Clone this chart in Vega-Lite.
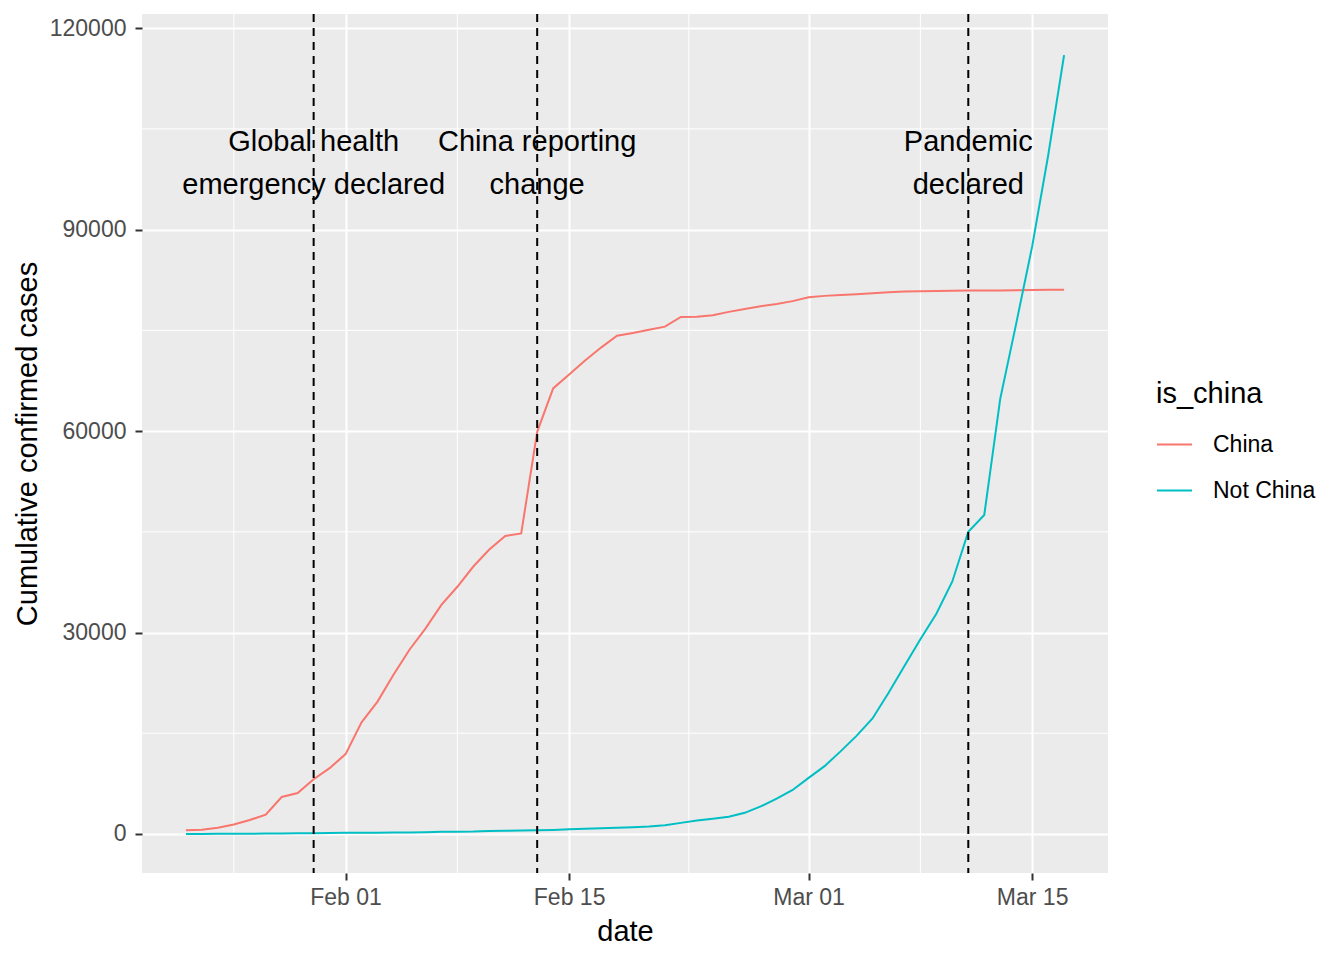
{
  "$schema": "https://vega.github.io/schema/vega-lite/v6.json",
  "width": 966,
  "height": 859,
  "autosize": {"type": "none"},
  "padding": {"left": 142, "top": 14, "right": 236, "bottom": 87},
  "background": "white",
  "config": {
    "font": "Liberation Sans",
    "view": {"fill": "#EBEBEB", "stroke": null},
    "axis": {
      "domain": false,
      "grid": true,
      "gridColor": "#FFFFFF",
      "gridWidth": 2,
      "tickColor": "#333333",
      "tickWidth": 2,
      "tickSize": 7,
      "labelFont": "Liberation Sans",
      "labelFontSize": 23,
      "labelColor": "#4D4D4D",
      "titleFont": "Liberation Sans",
      "titleFontSize": 29,
      "titleFontWeight": "normal",
      "titleColor": "#000000"
    },
    "legend": {
      "titleFont": "Liberation Sans",
      "titleFontSize": 29,
      "titleFontWeight": "normal",
      "titleColor": "#000000",
      "labelFont": "Liberation Sans",
      "labelFontSize": 23,
      "labelColor": "#000000"
    }
  },
  "datasets": {
    "cases": [
      {"date": "2020-01-22", "is_china": "China", "cases": 548},
      {"date": "2020-01-23", "is_china": "China", "cases": 643},
      {"date": "2020-01-24", "is_china": "China", "cases": 920},
      {"date": "2020-01-25", "is_china": "China", "cases": 1406},
      {"date": "2020-01-26", "is_china": "China", "cases": 2075},
      {"date": "2020-01-27", "is_china": "China", "cases": 2877},
      {"date": "2020-01-28", "is_china": "China", "cases": 5509},
      {"date": "2020-01-29", "is_china": "China", "cases": 6087},
      {"date": "2020-01-30", "is_china": "China", "cases": 8141},
      {"date": "2020-01-31", "is_china": "China", "cases": 9802},
      {"date": "2020-02-01", "is_china": "China", "cases": 11891},
      {"date": "2020-02-02", "is_china": "China", "cases": 16630},
      {"date": "2020-02-03", "is_china": "China", "cases": 19716},
      {"date": "2020-02-04", "is_china": "China", "cases": 23707},
      {"date": "2020-02-05", "is_china": "China", "cases": 27440},
      {"date": "2020-02-06", "is_china": "China", "cases": 30587},
      {"date": "2020-02-07", "is_china": "China", "cases": 34110},
      {"date": "2020-02-08", "is_china": "China", "cases": 36814},
      {"date": "2020-02-09", "is_china": "China", "cases": 39829},
      {"date": "2020-02-10", "is_china": "China", "cases": 42354},
      {"date": "2020-02-11", "is_china": "China", "cases": 44386},
      {"date": "2020-02-12", "is_china": "China", "cases": 44759},
      {"date": "2020-02-13", "is_china": "China", "cases": 59895},
      {"date": "2020-02-14", "is_china": "China", "cases": 66358},
      {"date": "2020-02-15", "is_china": "China", "cases": 68413},
      {"date": "2020-02-16", "is_china": "China", "cases": 70513},
      {"date": "2020-02-17", "is_china": "China", "cases": 72434},
      {"date": "2020-02-18", "is_china": "China", "cases": 74211},
      {"date": "2020-02-19", "is_china": "China", "cases": 74619},
      {"date": "2020-02-20", "is_china": "China", "cases": 75077},
      {"date": "2020-02-21", "is_china": "China", "cases": 75550},
      {"date": "2020-02-22", "is_china": "China", "cases": 77001},
      {"date": "2020-02-23", "is_china": "China", "cases": 77022},
      {"date": "2020-02-24", "is_china": "China", "cases": 77241},
      {"date": "2020-02-25", "is_china": "China", "cases": 77754},
      {"date": "2020-02-26", "is_china": "China", "cases": 78166},
      {"date": "2020-02-27", "is_china": "China", "cases": 78600},
      {"date": "2020-02-28", "is_china": "China", "cases": 78928},
      {"date": "2020-02-29", "is_china": "China", "cases": 79356},
      {"date": "2020-03-01", "is_china": "China", "cases": 79932},
      {"date": "2020-03-02", "is_china": "China", "cases": 80136},
      {"date": "2020-03-03", "is_china": "China", "cases": 80261},
      {"date": "2020-03-04", "is_china": "China", "cases": 80386},
      {"date": "2020-03-05", "is_china": "China", "cases": 80537},
      {"date": "2020-03-06", "is_china": "China", "cases": 80690},
      {"date": "2020-03-07", "is_china": "China", "cases": 80770},
      {"date": "2020-03-08", "is_china": "China", "cases": 80823},
      {"date": "2020-03-09", "is_china": "China", "cases": 80860},
      {"date": "2020-03-10", "is_china": "China", "cases": 80887},
      {"date": "2020-03-11", "is_china": "China", "cases": 80921},
      {"date": "2020-03-12", "is_china": "China", "cases": 80932},
      {"date": "2020-03-13", "is_china": "China", "cases": 80945},
      {"date": "2020-03-14", "is_china": "China", "cases": 80977},
      {"date": "2020-03-15", "is_china": "China", "cases": 81003},
      {"date": "2020-03-16", "is_china": "China", "cases": 81033},
      {"date": "2020-03-17", "is_china": "China", "cases": 81058},
      {"date": "2020-01-22", "is_china": "Not China", "cases": 7},
      {"date": "2020-01-23", "is_china": "Not China", "cases": 11},
      {"date": "2020-01-24", "is_china": "Not China", "cases": 21},
      {"date": "2020-01-25", "is_china": "Not China", "cases": 28},
      {"date": "2020-01-26", "is_china": "Not China", "cases": 43},
      {"date": "2020-01-27", "is_china": "Not China", "cases": 50},
      {"date": "2020-01-28", "is_china": "Not China", "cases": 83},
      {"date": "2020-01-29", "is_china": "Not China", "cases": 93},
      {"date": "2020-01-30", "is_china": "Not China", "cases": 122},
      {"date": "2020-01-31", "is_china": "Not China", "cases": 153},
      {"date": "2020-02-01", "is_china": "Not China", "cases": 173},
      {"date": "2020-02-02", "is_china": "Not China", "cases": 183},
      {"date": "2020-02-03", "is_china": "Not China", "cases": 188},
      {"date": "2020-02-04", "is_china": "Not China", "cases": 212},
      {"date": "2020-02-05", "is_china": "Not China", "cases": 227},
      {"date": "2020-02-06", "is_china": "Not China", "cases": 265},
      {"date": "2020-02-07", "is_china": "Not China", "cases": 317},
      {"date": "2020-02-08", "is_china": "Not China", "cases": 343},
      {"date": "2020-02-09", "is_china": "Not China", "cases": 361},
      {"date": "2020-02-10", "is_china": "Not China", "cases": 457},
      {"date": "2020-02-11", "is_china": "Not China", "cases": 476},
      {"date": "2020-02-12", "is_china": "Not China", "cases": 523},
      {"date": "2020-02-13", "is_china": "Not China", "cases": 538},
      {"date": "2020-02-14", "is_china": "Not China", "cases": 595},
      {"date": "2020-02-15", "is_china": "Not China", "cases": 685},
      {"date": "2020-02-16", "is_china": "Not China", "cases": 780},
      {"date": "2020-02-17", "is_china": "Not China", "cases": 860},
      {"date": "2020-02-18", "is_china": "Not China", "cases": 920},
      {"date": "2020-02-19", "is_china": "Not China", "cases": 1000},
      {"date": "2020-02-20", "is_china": "Not China", "cases": 1100},
      {"date": "2020-02-21", "is_china": "Not China", "cases": 1300},
      {"date": "2020-02-22", "is_china": "Not China", "cases": 1650},
      {"date": "2020-02-23", "is_china": "Not China", "cases": 2000},
      {"date": "2020-02-24", "is_china": "Not China", "cases": 2250},
      {"date": "2020-02-25", "is_china": "Not China", "cases": 2550},
      {"date": "2020-02-26", "is_china": "Not China", "cases": 3150},
      {"date": "2020-02-27", "is_china": "Not China", "cases": 4100},
      {"date": "2020-02-28", "is_china": "Not China", "cases": 5250},
      {"date": "2020-02-29", "is_china": "Not China", "cases": 6550},
      {"date": "2020-03-01", "is_china": "Not China", "cases": 8350},
      {"date": "2020-03-02", "is_china": "Not China", "cases": 10100},
      {"date": "2020-03-03", "is_china": "Not China", "cases": 12300},
      {"date": "2020-03-04", "is_china": "Not China", "cases": 14600},
      {"date": "2020-03-05", "is_china": "Not China", "cases": 17200},
      {"date": "2020-03-06", "is_china": "Not China", "cases": 21000},
      {"date": "2020-03-07", "is_china": "Not China", "cases": 25000},
      {"date": "2020-03-08", "is_china": "Not China", "cases": 29000},
      {"date": "2020-03-09", "is_china": "Not China", "cases": 32800},
      {"date": "2020-03-10", "is_china": "Not China", "cases": 37600},
      {"date": "2020-03-11", "is_china": "Not China", "cases": 45000},
      {"date": "2020-03-12", "is_china": "Not China", "cases": 47500},
      {"date": "2020-03-13", "is_china": "Not China", "cases": 64800},
      {"date": "2020-03-14", "is_china": "Not China", "cases": 76000},
      {"date": "2020-03-15", "is_china": "Not China", "cases": 87500},
      {"date": "2020-03-16", "is_china": "Not China", "cases": 101000},
      {"date": "2020-03-17", "is_china": "Not China", "cases": 116000}
    ],
    "minor_x": [
      {"date": "2020-01-25"},
      {"date": "2020-02-08"},
      {"date": "2020-02-22T12:00:00Z"},
      {"date": "2020-03-08"}
    ],
    "minor_y": [
      {"cases": 15000},
      {"cases": 45000},
      {"cases": 75000},
      {"cases": 105000}
    ],
    "events": [
      {"date": "2020-01-30", "event": "Global health\nemergency declared", "cases": 103000},
      {"date": "2020-02-13", "event": "China reporting\nchange", "cases": 103000},
      {"date": "2020-03-11", "event": "Pandemic\ndeclared", "cases": 103000}
    ]
  },
  "layer": [
    {
      "data": {"name": "minor_x"},
      "mark": {"type": "rule", "color": "#FFFFFF", "strokeWidth": 1},
      "encoding": {
        "x": {"field": "date", "type": "temporal", "scale": {"type": "utc"}}
      }
    },
    {
      "data": {"name": "minor_y"},
      "mark": {"type": "rule", "color": "#FFFFFF", "strokeWidth": 1},
      "encoding": {
        "y": {"field": "cases", "type": "quantitative"}
      }
    },
    {
      "data": {"name": "cases"},
      "mark": {"type": "line", "strokeWidth": 2},
      "encoding": {
        "x": {
          "field": "date",
          "type": "temporal",
          "title": "date",
          "scale": {
            "type": "utc",
            "domain": [
              {"year": 2020, "month": 1, "date": 19, "hours": 6, "utc": true},
              {"year": 2020, "month": 3, "date": 19, "hours": 18, "utc": true}
            ]
          },
          "axis": {
            "values": [
              {"year": 2020, "month": 2, "date": 1, "utc": true},
              {"year": 2020, "month": 2, "date": 15, "utc": true},
              {"year": 2020, "month": 3, "date": 1, "utc": true},
              {"year": 2020, "month": 3, "date": 15, "utc": true}
            ],
            "labelExpr": "utcFormat(datum.value, '%b %d')",
            "labelPadding": 6,
            "titlePadding": 8
          }
        },
        "y": {
          "field": "cases",
          "type": "quantitative",
          "title": "Cumulative confirmed cases",
          "scale": {"domain": [-5815, 122115], "nice": false, "zero": false},
          "axis": {
            "values": [0, 30000, 60000, 90000, 120000],
            "format": "d",
            "labelPadding": 9,
            "titlePadding": 7
          }
        },
        "color": {
          "field": "is_china",
          "type": "nominal",
          "title": "is_china",
          "scale": {"domain": ["China", "Not China"], "range": ["#F8766D", "#00BFC4"]},
          "legend": {
            "orient": "none",
            "legendX": 1014,
            "legendY": 366,
            "symbolType": "stroke",
            "symbolSize": 1225,
            "symbolStrokeWidth": 2,
            "rowPadding": 15,
            "labelOffset": 20,
            "titlePadding": 17,
            "padding": 0
          }
        }
      }
    },
    {
      "data": {"name": "events"},
      "mark": {"type": "rule", "color": "#000000", "strokeWidth": 2, "strokeDash": [8, 6]},
      "encoding": {
        "x": {"field": "date", "type": "temporal", "scale": {"type": "utc"}}
      }
    },
    {
      "data": {"name": "events"},
      "mark": {
        "type": "text",
        "font": "Liberation Sans",
        "fontSize": 29,
        "lineBreak": "\n",
        "lineHeight": 43,
        "align": "center",
        "baseline": "middle",
        "color": "#000000"
      },
      "encoding": {
        "x": {"field": "date", "type": "temporal", "scale": {"type": "utc"}},
        "y": {"field": "cases", "type": "quantitative"},
        "text": {"field": "event", "type": "nominal"}
      }
    }
  ]
}
